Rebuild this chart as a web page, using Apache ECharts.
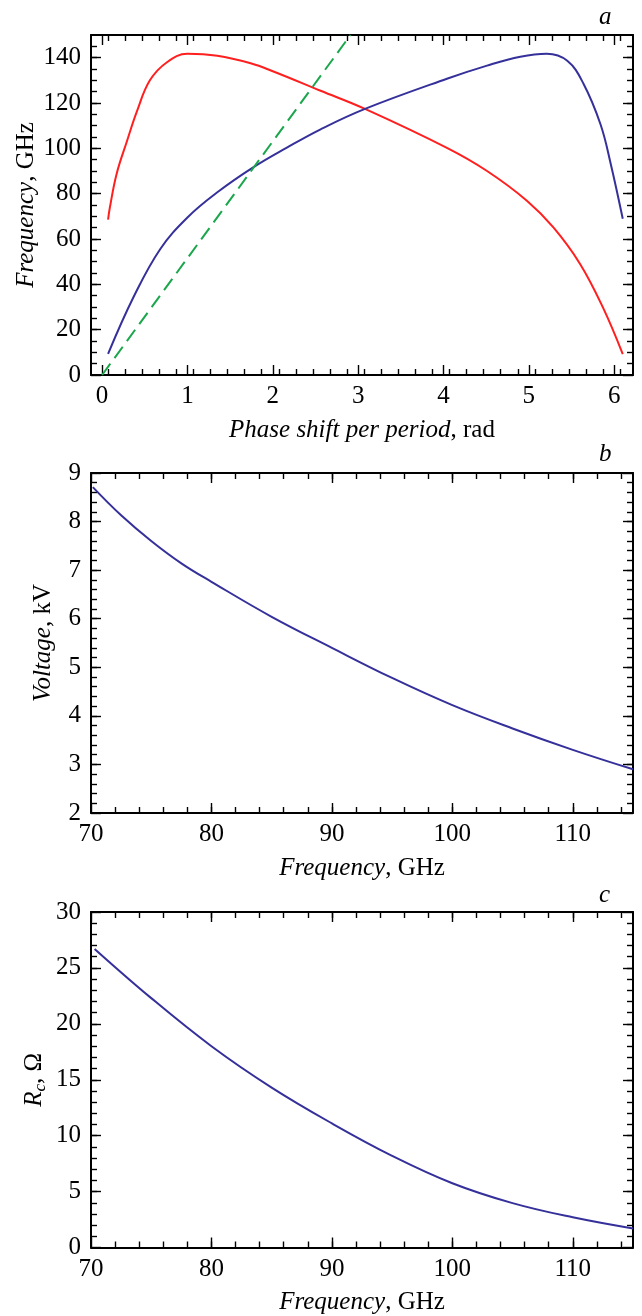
<!DOCTYPE html>
<html>
<head>
<meta charset="utf-8">
<script src="https://cdn.jsdelivr.net/npm/echarts@6/dist/echarts.min.js"></script>
<style>
  html, body { margin: 0; padding: 0; background: #fff; }
  #chart { width: 642px; height: 1316px; }
</style>
</head>
<body>
<div id="chart"></div>
<script>
// panel a: dispersion curves
const phaseRed = [0.07, 0.09, 0.17, 0.29, 0.41, 0.56, 0.76, 1.0, 1.35, 1.74, 2.0, 2.56, 3.08, 4.04, 4.51, 4.98, 5.29, 5.6, 5.87, 6.1]
const freqRed = [68.5, 73.7, 88.7, 103, 116.5, 130, 138, 141.7, 140.8, 137.5, 134.0, 125.4, 117.4, 100.2, 90, 76.8, 65, 49, 29.6, 9.2]
const phaseBlue = [0.07, 0.37, 0.68, 1.0, 1.35, 1.77, 2.16, 2.56, 3.08, 4.04, 4.51, 4.9, 5.21, 5.45, 5.64, 5.84, 5.96, 6.1]
const freqBlue = [9.3, 34.5, 55.5, 69.5, 80.6, 91.6, 100.2, 108.4, 117.4, 130.7, 136.5, 140.4, 141.7, 138.6, 128.5, 110.5, 93, 68.9]
const phaseBeam = [0, 2.91]
const freqBeam = [0, 150]

// panel b: voltage vs frequency
const freqB = [70.15, 72.5, 75, 77.5, 80, 85, 90, 95, 100, 105, 110, 115]
const voltage = [8.71, 8.13, 7.6, 7.14, 6.76, 6.04, 5.4, 4.78, 4.22, 3.74, 3.3, 2.9]

// panel c: coupling impedance vs frequency
const freqC = [70.3, 75, 80, 85, 90, 95, 100, 105, 110, 115]
const rc = [26.7, 22.3, 18.0, 14.3, 11.1, 8.2, 5.75, 3.97, 2.7, 1.7]

// tick values
const ticksPhase = [0, 1, 2, 3, 4, 5, 6]
const ticksFreqA = [0, 20, 40, 60, 80, 100, 120, 140]
const ticksFreqX = [70, 80, 90, 100, 110]
const ticksVolt = [2, 3, 4, 5, 6, 7, 8, 9]
const ticksRc = [0, 5, 10, 15, 20, 25, 30]

const FONT = 'Liberation Serif'
const text = { color: '#000', fontFamily: FONT, fontSize: 25 }
const rich = {
  i: { ...text, fontStyle: 'italic', lineHeight: 30 },
  s: { ...text, fontStyle: 'italic', fontSize: 17, lineHeight: 30, verticalAlign: 'bottom' },
  n: { ...text, lineHeight: 30 }
}

const steps = (from, to, step) => {
  const out = []
  for (let v = from; v <= to + 1e-9; v += step) out.push(+v.toFixed(4))
  return out
}

const xAxes = []
const yAxes = []

// four axes per side: labelled major, minor ticks, mirrored major, mirrored minor
function addAxes(list, isX, grid, min, max, majors, minorStep, name, nameGap, margin) {
  const pos = isX ? ['bottom', 'top'] : ['left', 'right']
  const minors = steps(min, max, minorStep).filter(v => v > min && v < max)
  const base = { type: 'value', gridIndex: grid, min, max, splitLine: { show: false } }
  const line = { show: true, onZero: false, lineStyle: { color: '#000', width: 2 } }
  const noLine = { show: false, onZero: false }
  const tick = (vals, len) => ({ show: true, inside: true, length: len, customValues: vals, lineStyle: { color: '#000', width: 1.4 } })
  list.push({
    ...base, position: pos[0], axisLine: line, axisTick: tick(majors, 10),
    axisLabel: { show: true, customValues: majors, margin, ...text },
    name, nameLocation: 'middle', nameGap, nameMoveOverlap: false, nameTextStyle: { ...text, rich }
  })
  list.push({ ...base, position: pos[0], axisLine: noLine, axisTick: tick(minors, 6), axisLabel: { show: false } })
  list.push({ ...base, position: pos[1], axisLine: line, axisTick: tick(majors, 10), axisLabel: { show: false } })
  list.push({ ...base, position: pos[1], axisLine: noLine, axisTick: tick(minors, 6), axisLabel: { show: false } })
}

addAxes(xAxes, true, 0, -0.13, 6.22, ticksPhase, 0.2, '{i|Phase shift per period}{n|, rad}', 40, 9)
addAxes(yAxes, false, 0, 0, 150, ticksFreqA, 5, '{i|Frequency}{n|, GHz}', 50, 10)
addAxes(xAxes, true, 1, 70, 115, ticksFreqX, 2, '{i|Frequency}{n|, GHz}', 40, 9)
addAxes(yAxes, false, 1, 2, 9, ticksVolt, 0.2, '{i|Voltage}{n|, kV}', 33, 10)
addAxes(xAxes, true, 2, 70, 115, ticksFreqX, 2, '{i|Frequency}{n|, GHz}', 40, 9)
addAxes(yAxes, false, 2, 0, 30, ticksRc, 1, '{i|R}{s|c}{n|, Ω}', 42, 10)

const zip = (xs, ys) => xs.map((x, k) => [x, ys[k]])
const curve = (grid, xs, ys, color, extra) => ({
  type: 'line', xAxisIndex: grid * 4, yAxisIndex: grid * 4,
  data: zip(xs, ys), showSymbol: false, smooth: 0.4,
  lineStyle: { color, width: 2, ...extra }
})

const chart = echarts.init(document.getElementById('chart'))
chart.setOption({
  animation: false,
  backgroundColor: '#fff',
  grid: [
    { left: 91, right: 9, top: 35, height: 340 },
    { left: 91, right: 9, top: 473, height: 340 },
    { left: 91, right: 9, top: 912, height: 339 }
  ],
  xAxis: xAxes,
  yAxis: yAxes,
  graphic: ['a', 'b', 'c'].map((t, k) => ({
    type: 'text', left: 599, top: [5, 442, 883][k],
    style: { text: t, font: 'italic 25px "Liberation Serif"', fill: '#000' }
  })),
  series: [
    curve(0, phaseRed, freqRed, '#ff1f1f'),
    curve(0, phaseBlue, freqBlue, '#35309a'),
    { ...curve(0, phaseBeam, freqBeam, '#1aa64b', { type: [14, 7] }), smooth: false },
    curve(1, freqB, voltage, '#35309a'),
    curve(2, freqC, rc, '#35309a')
  ]
})
</script>
</body>
</html>
